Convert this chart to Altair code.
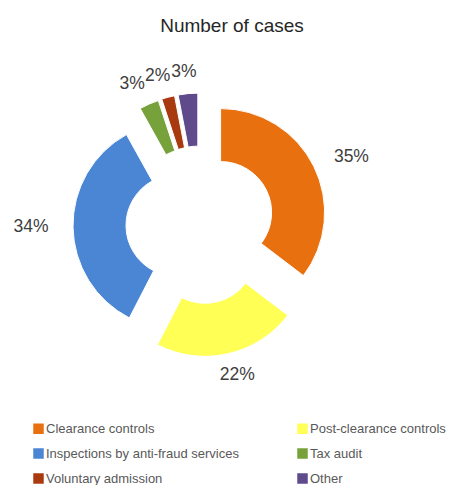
import altair as alt
import pandas as pd

categories = ["Clearance controls", "Post-clearance controls",
              "Inspections by anti-fraud services", "Tax audit",
              "Voluntary admission", "Other"]
shares = [35, 22, 34, 3, 2, 3]
colors = ["#E8700E", "#FFFF55", "#4A86D4", "#77A13B", "#A93A0F", "#5F4A8B"]

df = pd.DataFrame({"category": categories, "share": shares,
                   "order": list(range(len(categories)))})

W, H = 442, 437
CX, CY = 192, 177      # donut centre in plot pixels
DX, DY = 23, 28        # explosion distance
R_OUT, R_IN = 104, 51
LX, LY = 146, 126      # label distance from slice centre (x, y)

xs = alt.Scale(domain=[0, W], nice=False, zero=False)
ys = alt.Scale(domain=[0, H], nice=False, zero=False, reverse=True)

base = alt.Chart(df).transform_window(
    cum="sum(share)", sort=[alt.SortField("order")], frame=[None, 0]
).transform_joinaggregate(
    total="sum(share)"
).transform_calculate(
    t0="(datum.cum - datum.share) / datum.total * 2 * PI",
    t1="datum.cum / datum.total * 2 * PI",
).transform_calculate(
    mid="(datum.t0 + datum.t1) / 2"
).transform_calculate(
    cx=f"{CX} + {DX} * sin(datum.mid)",
    cy=f"{CY} - {DY} * cos(datum.mid)",
).transform_calculate(
    lx=f"datum.cx + {LX} * sin(datum.mid)",
    ly=f"datum.cy - {LY} * cos(datum.mid)",
    label="datum.share + '%'",
)

arcs = base.mark_arc(radius=R_OUT, innerRadius=R_IN, stroke="white",
                     strokeWidth=1).encode(
    x=alt.X("cx:Q", scale=xs, axis=None),
    y=alt.Y("cy:Q", scale=ys, axis=None),
    theta=alt.Theta("t0:Q", scale=None, stack=None),
    theta2=alt.Theta2("t1:Q"),
    color=alt.Color("category:N",
                    scale=alt.Scale(domain=categories, range=colors),
                    legend=alt.Legend(title=None, orient="none",
                                      direction="horizontal",
                                      legendX=24, legendY=374, columns=2,
                                      columnPadding=57, rowPadding=11,
                                      symbolType="square", symbolSize=110,
                                      symbolStrokeWidth=0, labelFontSize=13,
                                      labelFont="Liberation Sans",
                                      labelColor="#595959", labelOffset=1,
                                      labelLimit=300, padding=0)),
)

labels = base.mark_text(fontSize=17.5, font="Liberation Sans",
                        color="#404040").encode(
    x=alt.X("lx:Q", scale=xs, axis=None),
    y=alt.Y("ly:Q", scale=ys, axis=None),
    text="label:N",
)

chart = alt.layer(arcs, labels).properties(
    width=W, height=H,
    title=alt.TitleParams("Number of cases", fontSize=19,
                          font="Liberation Sans", fontWeight="normal",
                          color="#262626", anchor="middle", offset=12, dx=3),
    autosize=alt.AutoSizeParams(type="none"),
    padding={"left": 0, "top": 40, "right": 0, "bottom": 0},
).configure_view(stroke=None)

chart.save("out.html", embed_options={"renderer": "svg", "actions": False})
